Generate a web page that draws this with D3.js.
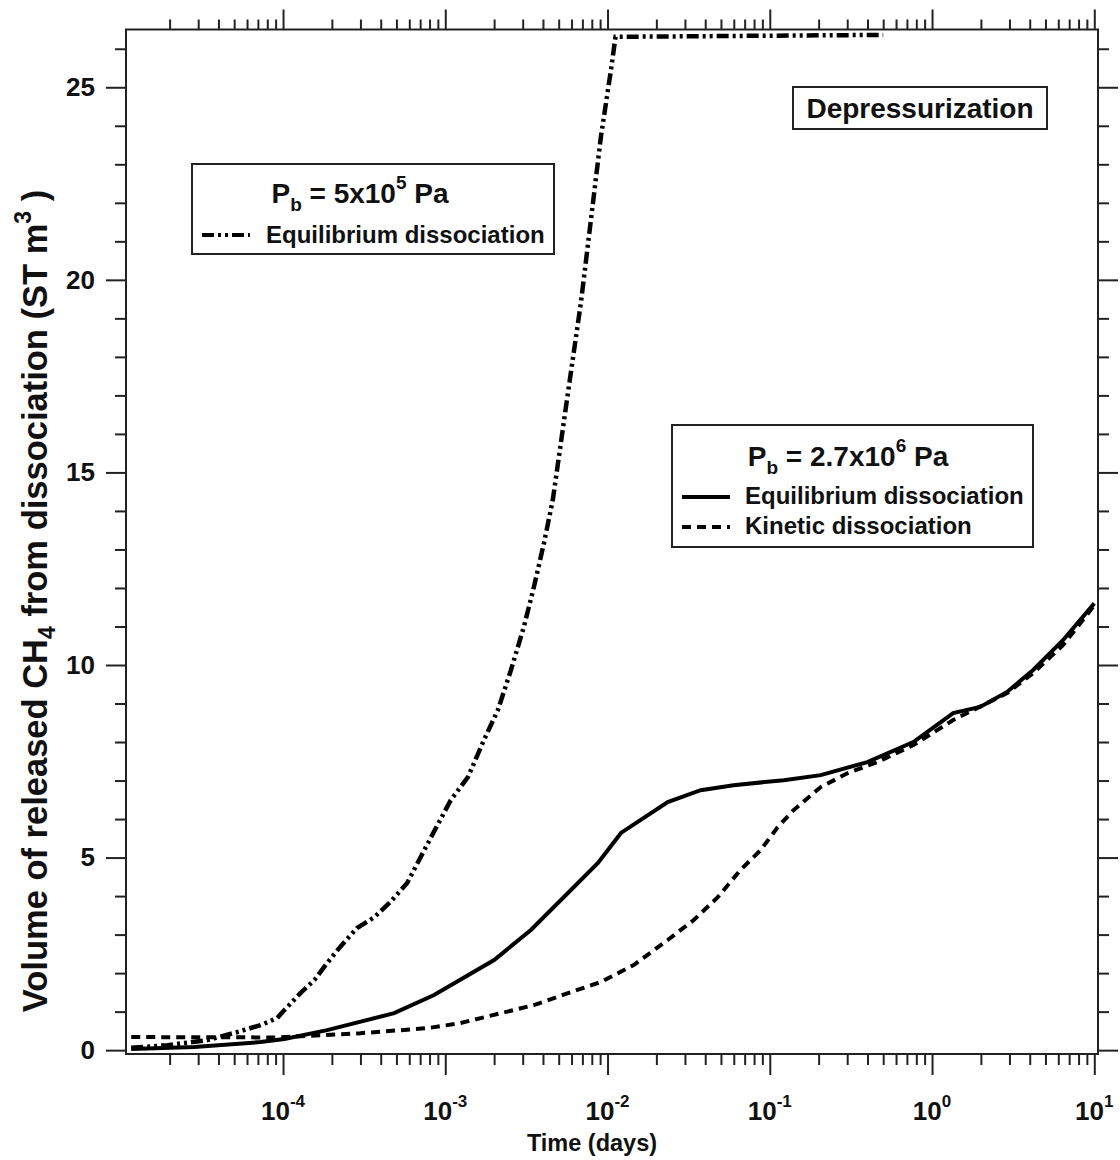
<!DOCTYPE html>
<html>
<head>
<meta charset="utf-8">
<script src="https://cdn.jsdelivr.net/npm/d3@7"></script>
<style>
  body { margin: 0; background: #fff; }
  text { font-family: "Liberation Sans", Arial, sans-serif; font-weight: bold; fill: #111; }
</style>
</head>
<body>
<div id="chart"></div>
<script>
// P_b = 2.7x10^6 Pa, equilibrium dissociation (solid)
const eqTime = [1.16e-5, 2.84e-5, 7.26e-5, 1.02e-4, 1.87e-4, 4.84e-4, 8.53e-4, 2.0e-3, 3.37e-3, 5.7e-3, 8.73e-3, 1.21e-2, 2.35e-2, 3.75e-2, 5.98e-2, 0.122, 0.206, 0.399, 0.767, 1.35, 1.98, 2.9, 4.2, 6.43, 10];
const eqVol  = [0.03, 0.08, 0.21, 0.29, 0.52, 0.96, 1.43, 2.34, 3.12, 4.08, 4.86, 5.64, 6.44, 6.75, 6.88, 7.01, 7.14, 7.48, 8.0, 8.75, 8.91, 9.30, 9.87, 10.65, 11.6];

// P_b = 2.7x10^6 Pa, kinetic dissociation (dashed)
const kinTime = [1.16e-5, 9.2e-5, 2.99e-4, 7.73e-4, 1.23e-3, 2.2e-3, 3.52e-3, 5.7e-3, 9.1e-3, 1.45e-2, 2.35e-2, 3.4e-2, 4.78e-2, 6.6e-2, 8.77e-2, 0.112, 0.14, 0.206, 0.301, 0.46, 0.767, 1.35, 2.9, 4.2, 6.43, 10];
const kinVol  = [0.34, 0.33, 0.44, 0.57, 0.70, 0.96, 1.17, 1.48, 1.77, 2.21, 2.86, 3.38, 3.97, 4.68, 5.19, 5.79, 6.23, 6.83, 7.19, 7.48, 7.92, 8.57, 9.27, 9.79, 10.52, 11.55];

// P_b = 5x10^5 Pa, equilibrium dissociation (dash-dot-dot)
const lowTime = [1.16e-5, 1.94e-5, 3.42e-5, 5.24e-5, 7.26e-5, 9.2e-5, 1.02e-4, 1.28e-4, 1.56e-4, 1.87e-4, 2.25e-4, 2.86e-4, 3.65e-4, 4.57e-4, 5.82e-4, 7.83e-4, 1.08e-3, 1.38e-3, 1.73e-3, 2.11e-3, 2.54e-3, 3.05e-3, 3.52e-3, 4.06e-3, 4.6e-3, 5.7e-3, 6.85e-3, 7.9e-3, 9.1e-3, 1.05e-2, 1.12e-2, 0.5];
const lowVol  = [0.06, 0.13, 0.26, 0.47, 0.65, 0.83, 1.04, 1.48, 1.82, 2.26, 2.68, 3.17, 3.45, 3.84, 4.34, 5.38, 6.49, 7.09, 8.05, 8.83, 9.87, 10.99, 12.03, 13.17, 14.29, 17.06, 19.40, 21.56, 23.71, 25.45, 26.31, 26.36];

const xMajor = [1e-4, 1e-3, 1e-2, 1e-1, 1e0, 1e1];
const xExp = ["-4", "-3", "-2", "-1", "0", "1"];
const yMajor = [0, 5, 10, 15, 20, 25];
const xDomain = [1.077e-5, 10.54];
const yDomain = [-0.1, 26.5];

const W = 1120, H = 1160;
const margin = { top: 29.5, right: 22, bottom: 106, left: 126 };
const width = W - margin.left - margin.right;
const height = H - margin.top - margin.bottom;

const svg = d3.select("#chart").append("svg")
  .attr("width", W)
  .attr("height", H);

const g = svg.append("g")
  .attr("transform", `translate(${margin.left},${margin.top})`);

const x = d3.scaleLog().domain(xDomain).range([0, width]);
const y = d3.scaleLinear().domain(yDomain).range([height, 0]);

// minor ticks: 2..9 of every decade inside the domain
const xMinor = [];
for (let e = -5; e <= 1; e++) {
  for (let m = 2; m <= 9; m++) {
    const v = m * Math.pow(10, e);
    if (v > xDomain[0] && v < xDomain[1]) xMinor.push(v);
  }
}
const yMinor = d3.range(0, 27).filter(v => v % 5 !== 0);

function styleAxis(sel) {
  sel.select(".domain").remove();
  sel.selectAll("line").attr("stroke", "#222").attr("stroke-width", 2);
}

// bottom
g.append("g").attr("transform", `translate(0,${height})`)
  .call(d3.axisBottom(x).tickValues(xMinor).tickSize(11).tickFormat(""))
  .call(styleAxis);
g.append("g").attr("transform", `translate(0,${height})`)
  .call(d3.axisBottom(x).tickValues(xMajor).tickSize(21).tickFormat(""))
  .call(styleAxis);
// top
g.append("g")
  .call(d3.axisTop(x).tickValues(xMinor).tickSize(10).tickFormat(""))
  .call(styleAxis);
g.append("g")
  .call(d3.axisTop(x).tickValues(xMajor).tickSize(20).tickFormat(""))
  .call(styleAxis);
// left
g.append("g")
  .call(d3.axisLeft(y).tickValues(yMinor).tickSize(11).tickFormat(""))
  .call(styleAxis);
const yAx = g.append("g")
  .call(d3.axisLeft(y).tickValues(yMajor).tickSize(20).tickPadding(11).tickFormat(d3.format("d")))
  .call(styleAxis);
yAx.selectAll("text").style("font-size", "26px").attr("fill", "#111");
// right
g.append("g").attr("transform", `translate(${width},0)`)
  .call(d3.axisRight(y).tickValues(yMinor).tickSize(11).tickFormat(""))
  .call(styleAxis);
g.append("g").attr("transform", `translate(${width},0)`)
  .call(d3.axisRight(y).tickValues(yMajor).tickSize(20).tickFormat(""))
  .call(styleAxis);

// x tick labels with exponents
xMajor.forEach((v, i) => {
  const t = g.append("text")
    .attr("x", x(v))
    .attr("y", height + 66)
    .attr("text-anchor", "middle")
    .style("font-size", "26px");
  t.append("tspan").text("10");
  t.append("tspan").attr("dy", -13).style("font-size", "17px").text(xExp[i]);
});

// frame
g.append("rect")
  .attr("width", width).attr("height", height)
  .attr("fill", "none").attr("stroke", "#222").attr("stroke-width", 2);

// clip
svg.append("clipPath").attr("id", "plot")
  .append("rect").attr("width", width).attr("height", height);

const line = d3.line()
  .x(d => x(d[0]))
  .y(d => y(d[1]));

const plot = g.append("g").attr("clip-path", "url(#plot)");

plot.append("path")
  .datum(d3.zip(lowTime, lowVol))
  .attr("d", line)
  .attr("fill", "none").attr("stroke", "#000").attr("stroke-width", 4.5)
  .attr("stroke-dasharray", "12,4,3,4,3,4");

plot.append("path")
  .datum(d3.zip(kinTime, kinVol))
  .attr("d", line)
  .attr("fill", "none").attr("stroke", "#000").attr("stroke-width", 4)
  .attr("stroke-dasharray", "9,6");

plot.append("path")
  .datum(d3.zip(eqTime, eqVol))
  .attr("d", line)
  .attr("fill", "none").attr("stroke", "#000").attr("stroke-width", 4);

// axis titles
svg.append("text")
  .attr("x", 592).attr("y", 1151)
  .attr("text-anchor", "middle")
  .style("font-size", "23.5px")
  .text("Time (days)");

const yt = svg.append("text")
  .attr("transform", "rotate(-90)")
  .attr("x", -601).attr("y", 47)
  .attr("text-anchor", "middle")
  .style("font-size", "34.5px");
yt.append("tspan").text("Volume of released CH");
yt.append("tspan").attr("dy", 8).style("font-size", "23px").text("4");
yt.append("tspan").attr("dy", -8).text(" from dissociation (ST m");
yt.append("tspan").attr("dy", -16).style("font-size", "23px").text("3");
yt.append("tspan").attr("dy", 16).text(" )");

// Depressurization label
svg.append("rect")
  .attr("x", 793).attr("y", 87).attr("width", 254).attr("height", 42)
  .attr("fill", "#fff").attr("stroke", "#222").attr("stroke-width", 2);
svg.append("text")
  .attr("x", 920).attr("y", 118)
  .attr("text-anchor", "middle")
  .style("font-size", "28px")
  .text("Depressurization");

// legend helper
function legendTitle(xc, yb, mant, exp) {
  const t = svg.append("text")
    .attr("x", xc).attr("y", yb)
    .attr("text-anchor", "middle")
    .style("font-size", "28px");
  t.append("tspan").text("P");
  t.append("tspan").attr("dy", 8).style("font-size", "19px").text("b");
  t.append("tspan").attr("dy", -8).text(" = " + mant + "x10");
  t.append("tspan").attr("dy", -14).style("font-size", "19px").text(exp);
  t.append("tspan").attr("dy", 14).text(" Pa");
}

// legend 1
svg.append("rect")
  .attr("x", 192).attr("y", 164).attr("width", 362).attr("height", 90)
  .attr("fill", "#fff").attr("stroke", "#222").attr("stroke-width", 2);
legendTitle(360, 203, "5", "5");
svg.append("line")
  .attr("x1", 202).attr("x2", 250).attr("y1", 235).attr("y2", 235)
  .attr("stroke", "#000").attr("stroke-width", 4)
  .attr("stroke-dasharray", "12,4,3,4,3,4");
svg.append("text")
  .attr("x", 266).attr("y", 243)
  .style("font-size", "24px")
  .text("Equilibrium dissociation");

// legend 2
svg.append("rect")
  .attr("x", 672).attr("y", 425).attr("width", 361).attr("height", 122)
  .attr("fill", "#fff").attr("stroke", "#222").attr("stroke-width", 2);
legendTitle(848, 466, "2.7", "6");
svg.append("line")
  .attr("x1", 682).attr("x2", 730).attr("y1", 497).attr("y2", 497)
  .attr("stroke", "#000").attr("stroke-width", 4);
svg.append("text")
  .attr("x", 745).attr("y", 504)
  .style("font-size", "24px")
  .text("Equilibrium dissociation");
svg.append("line")
  .attr("x1", 682).attr("x2", 730).attr("y1", 527).attr("y2", 527)
  .attr("stroke", "#000").attr("stroke-width", 4)
  .attr("stroke-dasharray", "9,6");
svg.append("text")
  .attr("x", 745).attr("y", 534)
  .style("font-size", "24px")
  .text("Kinetic dissociation");
</script>
</body>
</html>
